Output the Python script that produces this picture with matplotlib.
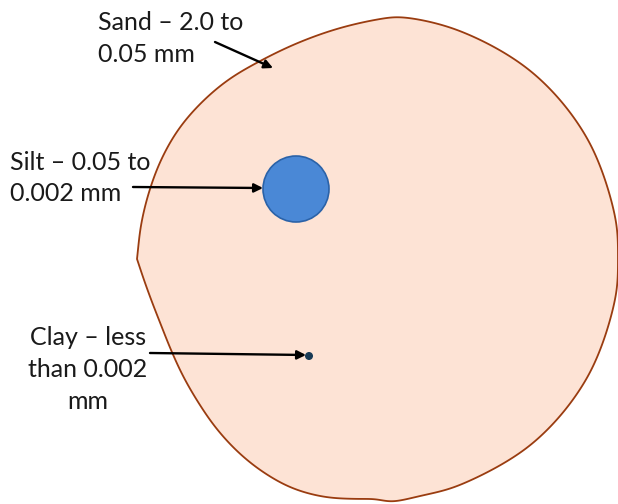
import numpy as np
import matplotlib
matplotlib.use("Agg")
import matplotlib.pyplot as plt
from matplotlib.patches import Polygon, Ellipse, Circle

# ---- diagram data (pixel coordinates of the reference image) ----
sand_outline_x = [137, 141, 149, 161, 178, 200, 228, 262, 300, 340, 380, 400,
                  460, 533, 587, 615, 618, 615, 587, 533, 460, 420, 388,
                  378, 360, 325, 292, 263, 238, 216, 198, 183, 171, 161, 152, 144, 137]
sand_outline_y = [259, 225, 192, 160, 130, 104, 80, 60, 42, 28, 19, 17,
                  31, 73, 138, 216, 258, 300, 378, 443, 485, 496, 502,
                  499, 499, 497, 488, 472, 452, 428, 402, 376, 350, 325, 302, 280, 259]
silt_center = (296, 189)
silt_size = (66, 66)
clay_center = (309, 356)
clay_radius = 3.3

label_lines = [["Sand \u2013 2.0 to", "0.05 mm"],
               ["Silt \u2013 0.05 to", "0.002 mm"],
               ["Clay \u2013 less", "than 0.002", "mm"]]
label_x = [98, 10, 88]
label_baselines = [[30, 62], [170, 201], [345, 377, 409]]
label_align = ["left", "left", "center"]
arrow_start = [(215, 42), (133, 187), (150, 353)]
arrow_end = [(273, 68), (263, 188), (306, 355)]


def centripetal_cr(xs, ys, n=40, alpha=0.5):
    pts = np.column_stack([xs, ys]).astype(float)
    pts = np.vstack([2 * pts[0] - pts[1], pts, 2 * pts[-1] - pts[-2]])
    out = []
    for i in range(1, len(pts) - 2):
        p0, p1, p2, p3 = pts[i - 1], pts[i], pts[i + 1], pts[i + 2]
        t0 = 0.0
        t1 = t0 + np.linalg.norm(p1 - p0) ** alpha
        t2 = t1 + np.linalg.norm(p2 - p1) ** alpha
        t3 = t2 + np.linalg.norm(p3 - p2) ** alpha
        t = np.linspace(t1, t2, n, endpoint=False)[:, None]
        a1 = (t1 - t) / (t1 - t0) * p0 + (t - t0) / (t1 - t0) * p1
        a2 = (t2 - t) / (t2 - t1) * p1 + (t - t1) / (t2 - t1) * p2
        a3 = (t3 - t) / (t3 - t2) * p2 + (t - t2) / (t3 - t2) * p3
        b1 = (t2 - t) / (t2 - t0) * a1 + (t - t0) / (t2 - t0) * a2
        b2 = (t3 - t) / (t3 - t1) * a2 + (t - t1) / (t3 - t1) * a3
        out.append((t2 - t) / (t2 - t1) * b1 + (t - t1) / (t2 - t1) * b2)
    out.append(pts[-2][None, :])
    return np.vstack(out)


def smooth_path(pts, step=1.0, sigma=7.0):
    seg = np.linalg.norm(np.diff(pts, axis=0), axis=1)
    s = np.concatenate([[0], np.cumsum(seg)])
    su = np.arange(0, s[-1], step)
    px = np.interp(su, s, pts[:, 0])
    py = np.interp(su, s, pts[:, 1])
    half = int(4 * sigma / step)
    k = np.exp(-0.5 * (np.arange(-half, half + 1) * step / sigma) ** 2)
    k /= k.sum()

    def sm(v):
        pad_l = 2 * v[0] - v[1:half + 1][::-1]
        pad_r = 2 * v[-1] - v[-half - 1:-1][::-1]
        return np.convolve(np.concatenate([pad_l, v, pad_r]), k, mode="valid")

    return np.column_stack([sm(px), sm(py)])


fig = plt.figure(figsize=(6.18, 5.04), dpi=100)
ax = fig.add_axes([0, 0, 1, 1])
ax.set_xlim(0, 618)
ax.set_ylim(504, 0)
ax.axis("off")

outline = smooth_path(centripetal_cr(sand_outline_x, sand_outline_y))
ax.add_patch(Polygon(outline, closed=True, facecolor="#fde3d5", edgecolor="#9a3c10",
                     linewidth=1.3, zorder=1))

ax.add_patch(Ellipse(silt_center, silt_size[0], silt_size[1], facecolor="#4a88d6",
                     edgecolor="#2a62a8", linewidth=1.2, zorder=2))
ax.add_patch(Circle(clay_center, clay_radius, facecolor="#173a55",
                    edgecolor="#173a55", zorder=3))

for (sx, sy), (ex, ey) in zip(arrow_start, arrow_end):
    ax.annotate("", xy=(ex, ey), xytext=(sx, sy),
                arrowprops=dict(arrowstyle="-|>", color="black", lw=1.7,
                                mutation_scale=13, shrinkA=0, shrinkB=0), zorder=4)

for lines, x, bases, ha in zip(label_lines, label_x, label_baselines, label_align):
    for line, yb in zip(lines, bases):
        ax.text(x, yb, line, ha=ha, va="baseline", fontsize=18, family="Lato",
                color="#1a1a1a", zorder=5)

fig.savefig("out.png", dpi=100)
